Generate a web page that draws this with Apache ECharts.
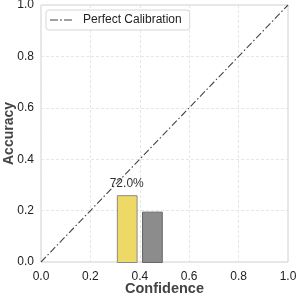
<!DOCTYPE html>
<html><head><meta charset="utf-8">
<script src="https://cdn.jsdelivr.net/npm/echarts@6/dist/echarts.min.js"></script>
<style>html,body{margin:0;padding:0;background:#fff}#c{width:297px;height:297px}</style>
</head><body><div id="c"></div>
<script>
var accConf = [0.347];
var accVals = [0.26];
var accLabels = ['72.0%'];
var gapConf = [0.449];
var gapVals = [0.196];
var diagX = [0, 1];
var diagY = [0, 1];

var chart = echarts.init(document.getElementById('c'), null, {renderer: 'canvas'});
var FONT = 'Liberation Sans, Arial, sans-serif';
function barRender(fill, stroke, labels) {
  return function (params, api) {
    var x = api.value(0), y = api.value(1), w = 0.08;
    var p0 = api.coord([x - w / 2, y]);
    var p1 = api.coord([x + w / 2, 0]);
    var children = [{type: 'rect', shape: {x: p0[0] + 0.5, y: p0[1] + 0.5, width: p1[0] - p0[0], height: p1[1] - p0[1]},
      style: {fill: fill, stroke: stroke, lineWidth: 1}}];
    if (labels) {
      children.push({type: 'text', x: (p0[0] + p1[0]) / 2, y: p0[1] - 5,
        style: {text: labels[params.dataIndex], fill: '#333', font: '12px ' + FONT, align: 'center', verticalAlign: 'bottom'}});
    }
    return {type: 'group', children: children};
  };
}
chart.setOption({
  animation: false,
  backgroundColor: '#fff',
  grid: {left: 41, right: 9, top: 5, bottom: 35, containLabel: false, outerBoundsMode: 'none',
    show: true, borderColor: '#d0d0d0', borderWidth: 1},
  legend: {
    left: 46, top: 10, padding: [4, 8, 4, 4], itemWidth: 22, itemHeight: 6, itemGap: 10,
    icon: 'path://M0,2.5h8v1h-8z M10,2.5h2v1h-2z M14,2.5h8v1h-8z',
    backgroundColor: '#fff', borderColor: '#d6d6d6', borderWidth: 1, borderRadius: 3,
    textStyle: {fontFamily: FONT, fontSize: 12, color: '#222', padding: [0, 0, 0, 6]},
    itemStyle: {color: '#444'},
    data: ['Perfect Calibration']
  },
  xAxis: {
    type: 'value', min: 0, max: 1, interval: 0.2,
    name: 'Confidence', nameLocation: 'middle', nameGap: 19, nameMoveOverlap: false,
    nameTextStyle: {fontFamily: FONT, fontSize: 14.5, fontWeight: 'bold', color: '#444'},
    axisLine: {show: false}, axisTick: {show: false},
    axisLabel: {fontFamily: FONT, fontSize: 12, color: '#222', margin: 9, formatter: function (v) { return v.toFixed(1); }},
    splitLine: {show: true, lineStyle: {color: '#e6e6e6', type: [3, 2]}}
  },
  yAxis: {
    type: 'value', min: 0, max: 1, interval: 0.2,
    name: 'Accuracy', nameLocation: 'middle', nameGap: 25, nameMoveOverlap: false,
    nameTextStyle: {fontFamily: FONT, fontSize: 14, fontWeight: 'bold', color: '#444'},
    axisLine: {show: false}, axisTick: {show: false},
    axisLabel: {fontFamily: FONT, fontSize: 12, color: '#222', margin: 7, formatter: function (v) { return v.toFixed(1); }},
    splitLine: {show: true, lineStyle: {color: '#e6e6e6', type: [3, 2]}}
  },
  series: [
    {
      name: 'Perfect Calibration', type: 'line', symbol: 'none', showSymbol: false,
      data: diagX.map(function (x, i) { return [x, diagY[i]]; }),
      lineStyle: {color: '#444', width: 1.1, type: [7, 2.5, 1.5, 2.5]},
      itemStyle: {color: '#444'}, z: 5
    },
    {
      name: 'Accuracy', type: 'custom', renderItem: barRender('#eed966', '#8a8a8a', accLabels),
      data: accConf.map(function (x, i) { return [x, accVals[i]]; }),
      encode: {x: 0, y: 1}, z: 3
    },
    {
      name: 'Gap', type: 'custom', renderItem: barRender('#8c8c8c', '#666666', null),
      data: gapConf.map(function (x, i) { return [x, gapVals[i]]; }),
      encode: {x: 0, y: 1}, z: 3
    }
  ]
});
</script></body></html>
